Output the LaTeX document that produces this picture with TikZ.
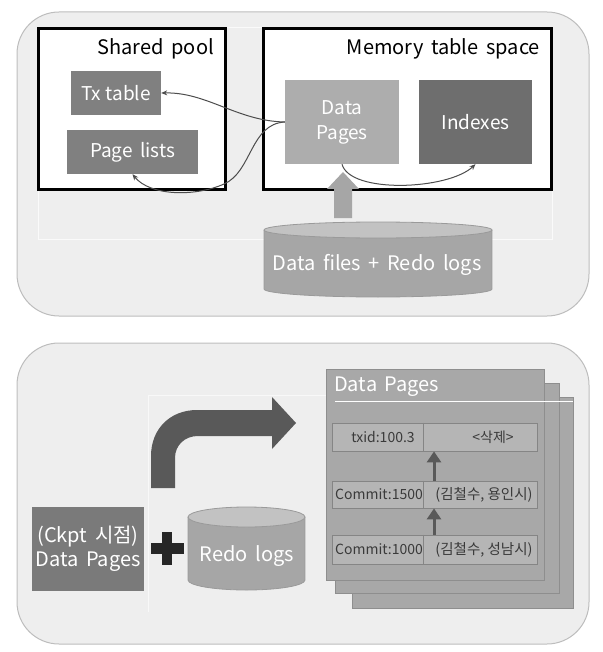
\documentclass[tikz,border=0pt]{standalone}
\usepackage{fontspec}
\setmainfont{Noto Sans CJK KR}
\usetikzlibrary{arrows.meta,calc}
\definecolor{panelfill}{HTML}{EEEEEE}
\definecolor{panelline}{HTML}{BDBDBD}
\definecolor{midgray}{HTML}{808080}
\definecolor{lightbox}{HTML}{ADADAD}
\definecolor{darkbox}{HTML}{6E6E6E}
\definecolor{arrowgray}{HTML}{A6A6A6}
\definecolor{cylbody}{HTML}{A6A6A6}
\definecolor{cyltop}{HTML}{C2C2C2}
\definecolor{cylline}{HTML}{9A9A9A}
\definecolor{bigarrow}{HTML}{595959}
\definecolor{plusc}{HTML}{262626}
\definecolor{pagefill}{HTML}{A8A8A8}
\definecolor{pageline}{HTML}{8E8E8E}
\definecolor{rowfill}{HTML}{B5B5B5}
\definecolor{rowline}{HTML}{858585}
\definecolor{rowtext}{HTML}{3A3A3A}
\definecolor{curve}{HTML}{4D4D4D}
\newcommand{\wsp}{\hspace{0.38em}}
\tikzset{
  panel/.style={draw=panelline, fill=panelfill, line width=1pt, rounded corners=42pt},
  region/.style={draw=black, fill=white, line width=3pt, minimum width=#1, minimum height=161pt, inner sep=0pt},
  grayblock/.style={fill=#1, text=white, inner sep=0pt, font=\fontsize{19}{25}\selectfont, align=center},
  label/.style={font=\fontsize{20}{24}\selectfont, inner sep=0pt},
  curvearrow/.style={draw=curve, line width=1pt, -{Stealth[length=6pt,width=5pt]}},
  pagesheet/.style={fill=pagefill, draw=pageline, line width=0.8pt},
  rowbox/.style={fill=rowfill, draw=rowline, line width=0.8pt, minimum width=205pt, inner sep=0pt},
  celltext/.style={text=rowtext, font=\fontsize{14}{16}\selectfont, inner sep=0pt},
  uparrow/.style={draw=bigarrow, line width=3pt, -{Triangle[width=14pt,length=11pt]}},
}
\begin{document}
\begin{tikzpicture}[x=1pt,y=-1pt]
\useasboundingbox (0,0) rectangle (602,652);
% ---------- top panel ----------
\draw[panel] (17,12) rectangle (589,316);
\draw[draw=white!70!panelfill, line width=1pt] (38,28) rectangle (552,239);
\node[region=187pt] (sp) at (131.5,109.5) {};
\node[region=288pt] (mts) at (407,109.5) {};
\node[label, anchor=east] (splabel) at (214,49) {Shared\wsp pool};
\node[label, anchor=east] (mtslabel) at (540,49) {Memory\wsp table\wsp space};
\node[grayblock=midgray, minimum width=90pt, minimum height=44pt] (tx) at (116,93) {Tx table};
\node[grayblock=midgray, minimum width=131pt, minimum height=44pt] (pl) at (132.5,152) {Page\wsp lists};
\node[grayblock=lightbox, minimum width=114pt, minimum height=84pt] (dp) at (342,122) {Data\\Pages};
\node[grayblock=darkbox, minimum width=113pt, minimum height=84pt] (idx) at (475.5,122) {Indexes};
% curves
\draw[curvearrow] (dp.west) .. controls (237,121) and (207,92) .. (tx.east);
\draw[curvearrow] (dp.west) .. controls (250,124) and (252,172) .. (224,184)
   .. controls (195,197) and (150,196) .. (pl.south);
\draw[curvearrow] (dp.south) .. controls (350,194) and (448,190) .. (idx.south);
% cylinder top
\fill[cylbody] (264,230) rectangle (492,289);
\fill[cylbody] (378,289) ellipse[x radius=114, y radius=8];
\draw[cylline, line width=0.8pt] (264,230) -- (264,289) arc[start angle=180, end angle=0, x radius=114, y radius=8] -- (492,230);
\filldraw[fill=cyltop, draw=cylline, line width=0.8pt] (378,230) ellipse[x radius=114, y radius=8];
\node[label, text=white] (dfrl) at (377,265) {Data\wsp files\wsp +\wsp Redo\wsp logs};
% block arrow up
\fill[arrowgray] (334,218) -- (334,189) -- (327,189) -- (343,172) -- (359,189) -- (352,189) -- (352,218) -- cycle;
% ---------- bottom panel ----------
\draw[panel] (17,343) rectangle (589,644);
\draw[draw=white!60!panelfill, line width=1pt] (148,612) -- (148,395) -- (330,395);
% big arrow
\fill[bigarrow] (151,488) -- (151,456) .. controls (151,429) and (170,410) .. (197,410)
  -- (272,410) -- (272,397) -- (296,423) -- (272,449) -- (272,436) -- (198,436)
  .. controls (185,436) and (175,445) .. (175,458) -- (175,488) -- cycle;
% ckpt box
\node[grayblock=midgray!95!black, minimum width=112pt, minimum height=84pt, font=\fontsize{20}{24}\selectfont] (ck) at (88,549) {(Ckpt\wsp 시점)\\Data\wsp Pages};
% plus
\fill[plusc] (151,543) rectangle (184,554);
\fill[plusc] (162,532) rectangle (172,565);
% redo cylinder
\fill[cylbody] (188,517) rectangle (305,580);
\fill[cylbody] (246.5,580) ellipse[x radius=58.5, y radius=10];
\draw[cylline, line width=0.8pt] (188,517) -- (188,580) arc[start angle=180, end angle=0, x radius=58.5, y radius=10] -- (305,517);
\filldraw[fill=cyltop, draw=cylline, line width=0.8pt] (246.5,517) ellipse[x radius=58.5, y radius=10];
\node[label, text=white] (redo) at (247,556) {Redo\wsp logs};
% page stack
\draw[pagesheet] (352,397) rectangle (573,608);
\draw[pagesheet] (335,383) rectangle (559,593);
\draw[pagesheet] (326,369) rectangle (544,580);
\node[label, text=white, anchor=west] (dptitle) at (334,387) {Data\wsp Pages};
\draw[white, line width=1pt] (335,401) -- (573,401);
% rows
\node[rowbox, minimum height=28pt] (r1) at (434.5,437) {};
\node[rowbox, minimum height=27pt] (r2) at (434.5,494.5) {};
\node[rowbox, minimum height=29pt] (r3) at (434.5,549.5) {};
\foreach \r in {r1,r2,r3} {
  \draw[rowline, line width=0.8pt] ($(\r.north west)+(92,0)$) -- ($(\r.south west)+(92,0)$);
}
\node[celltext] (t1a) at (383,437) {txid:100.3};
\node[celltext] (t1b) at (493,437) {<삭제>};
\node[celltext] (t2a) at (379,494.5) {Commit:1500};
\node[celltext, font=\fontsize{14.5}{16}\selectfont] (t2b) at (484,494.5) {(김철수, 용인시)};
\node[celltext] (t3a) at (379,549.5) {Commit:1000};
\node[celltext, font=\fontsize{14.5}{16}\selectfont] (t3b) at (484,549.5) {(김철수, 성남시)};
\coordinate (ax) at (434,0);
\draw[uparrow] (ax |- r2.north) -- (ax |- r1.south);
\draw[uparrow] (ax |- r3.north) -- (ax |- r2.south);
\end{tikzpicture}
\end{document}
